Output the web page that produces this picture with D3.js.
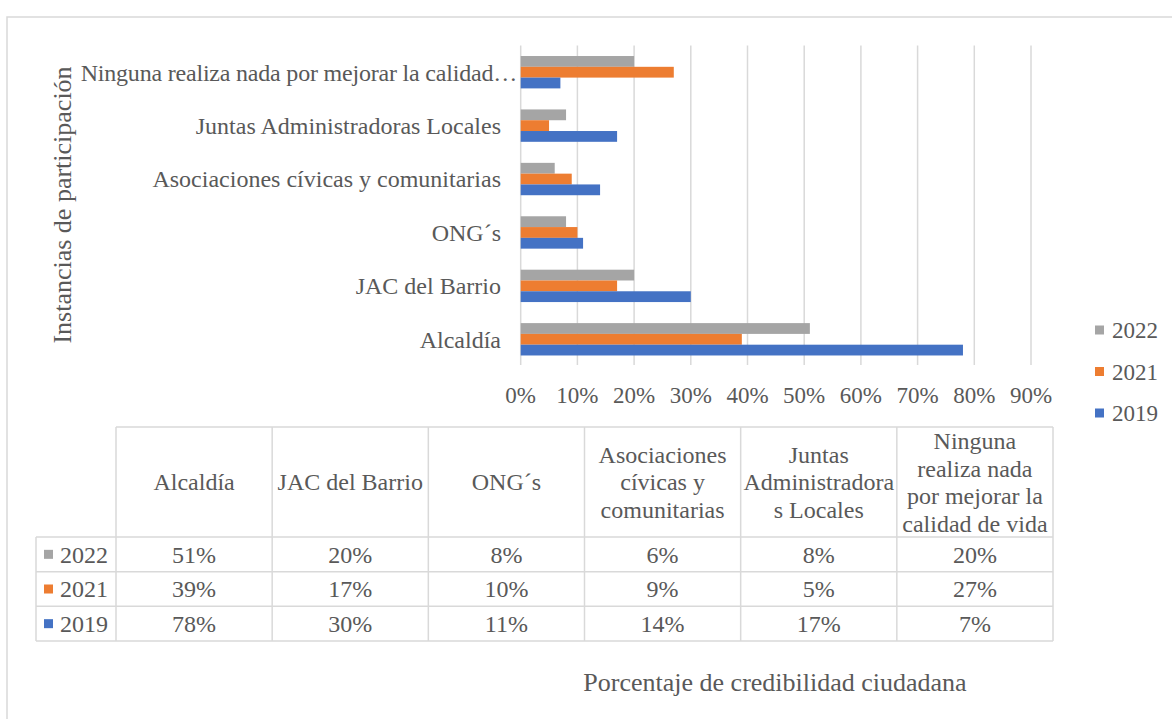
<!DOCTYPE html>
<html>
<head>
<meta charset="utf-8">
<script src="https://cdn.jsdelivr.net/npm/d3@7"></script>
<style>
  html, body { margin: 0; padding: 0; background: #fff; }
  svg { display: block; }
  text { font-family: "Liberation Serif", "Times New Roman", serif; fill: #595959; }
</style>
</head>
<body>
<svg id="chart" width="1172" height="719"></svg>
<script>
// categories as they appear in the table (left to right) / chart (bottom to top)
const categories = [
  "Alcaldía",
  "JAC del Barrio",
  "ONG´s",
  "Asociaciones cívicas y comunitarias",
  "Juntas Administradoras Locales",
  "Ninguna realiza nada por mejorar la calidad de vida"
];
const seriesNames = ["2022", "2021", "2019"];
const values2022 = [51, 20, 8, 6, 8, 20];
const values2021 = [39, 17, 10, 9, 5, 27];
const values2019 = [78, 30, 11, 14, 17, 7];
const xTicks = [0, 10, 20, 30, 40, 50, 60, 70, 80, 90];

const seriesValues = { "2022": values2022, "2021": values2021, "2019": values2019 };
const colors = { "2022": "#a5a5a5", "2021": "#ed7d31", "2019": "#4472c4" };
const gridColor = "#d9d9d9";

const svg = d3.select("#chart");

// outer chart frame
svg.append("rect")
  .attr("x", 7).attr("y", 17)
  .attr("width", 1300).attr("height", 900)
  .attr("fill", "#fff")
  .attr("stroke", gridColor)
  .attr("stroke-width", 1.5);

// plot area
const plot = { left: 520.7, right: 1031, top: 45.5, bottom: 366 };

const x = d3.scaleLinear().domain([0, 90]).range([plot.left, plot.right]);
const y = d3.scaleBand()
  .domain(categories)
  .range([plot.bottom, plot.top])
  .paddingInner(0.394)
  .paddingOuter(0.197);
const ySub = d3.scaleBand().domain(seriesNames).range([0, y.bandwidth()]);

// gridlines
svg.append("g")
  .selectAll("line")
  .data(xTicks)
  .join("line")
  .attr("x1", d => x(d)).attr("x2", d => x(d))
  .attr("y1", plot.top).attr("y2", plot.bottom - 1)
  .attr("stroke", gridColor)
  .attr("stroke-width", 1.5);

// bars
const groups = svg.append("g")
  .selectAll("g")
  .data(categories)
  .join("g")
  .attr("transform", d => "translate(0," + y(d) + ")");

groups.selectAll("rect")
  .data((c, i) => seriesNames.map(s => ({ s: s, v: seriesValues[s][i] })))
  .join("rect")
  .attr("x", x(0))
  .attr("y", d => ySub(d.s))
  .attr("width", d => x(d.v) - x(0))
  .attr("height", ySub.bandwidth())
  .attr("fill", d => colors[d.s]);

// x tick labels
svg.append("g")
  .selectAll("text")
  .data(xTicks)
  .join("text")
  .attr("x", d => x(d))
  .attr("y", 395)
  .attr("dy", "0.35em")
  .attr("text-anchor", "middle")
  .style("font-size", "23px")
  .text(d => d + "%");

// category labels (long ones get cut with an ellipsis, like Excel)
const labelMax = 446;
const catLabels = svg.append("g")
  .selectAll("text")
  .data(categories)
  .join("text")
  .attr("y", d => y(d) + y.bandwidth() / 2)
  .attr("dy", "0.35em")
  .attr("text-anchor", "end")
  .style("font-size", "24px")
  .text(d => d);

catLabels.each(function(d) {
  const t = d3.select(this);
  let s = d;
  let cut = false;
  while (this.getComputedTextLength() > labelMax && s.length > 1) {
    s = s.slice(0, -1).trimEnd();
    t.text(s + "…");
    cut = true;
  }
  t.attr("x", cut ? 517 : 501);
  if (cut) t.style("letter-spacing", "-0.2px");
});

// axis titles
svg.append("text")
  .attr("transform", "translate(62,205) rotate(-90)")
  .attr("dy", "0.35em")
  .attr("text-anchor", "middle")
  .style("font-size", "26px")
  .text("Instancias de participación");

svg.append("text")
  .attr("x", 775).attr("y", 682)
  .attr("dy", "0.35em")
  .attr("text-anchor", "middle")
  .style("font-size", "26px")
  .text("Porcentaje de credibilidad ciudadana");

// legend
const legendY = d3.scalePoint().domain(seriesNames).range([330, 413]);
const legend = svg.append("g")
  .selectAll("g")
  .data(seriesNames)
  .join("g")
  .attr("transform", d => "translate(1095," + legendY(d) + ")");
legend.append("rect")
  .attr("x", 0).attr("y", -4.5)
  .attr("width", 9).attr("height", 9)
  .attr("fill", d => colors[d]);
legend.append("text")
  .attr("x", 17)
  .attr("dy", "0.35em")
  .style("font-size", "23px")
  .text(d => d);

// data table
const table = { left: 36, colLeft: 116, right: 1053, top: 427, headBottom: 537, bottom: 641 };
const col = d3.scaleBand().domain(categories).range([table.colLeft, table.right]);
const row = d3.scaleBand().domain(seriesNames).range([table.headBottom, table.bottom]);

const tg = svg.append("g");
const line = (x1, y1, x2, y2) => tg.append("line")
  .attr("x1", x1).attr("y1", y1).attr("x2", x2).attr("y2", y2)
  .attr("stroke", gridColor).attr("stroke-width", 1.5);

// horizontal rules
line(table.colLeft, table.top, table.right, table.top);
seriesNames.forEach(s => line(table.left, row(s), table.right, row(s)));
line(table.left, table.bottom, table.right, table.bottom);
// vertical rules
line(table.left, table.headBottom, table.left, table.bottom);
categories.forEach(c => line(col(c), table.top, col(c), table.bottom));
line(table.right, table.top, table.right, table.bottom);

// header text with wrapping
const wrapMax = 151.5;
const lineH = 27.5;
const measure = tg.append("text").style("font-size", "24px");
function textWidth(s) {
  measure.text(s);
  return measure.node().getComputedTextLength();
}
function wrap(s) {
  const words = s.split(" ");
  const lines = [];
  let cur = "";
  words.forEach(w => {
    const test = cur ? cur + " " + w : w;
    if (textWidth(test) <= wrapMax) { cur = test; return; }
    if (cur) lines.push(cur);
    cur = w;
    while (textWidth(cur) > wrapMax) {
      let k = cur.length - 1;
      while (k > 1 && textWidth(cur.slice(0, k)) > wrapMax) k--;
      lines.push(cur.slice(0, k));
      cur = cur.slice(k);
    }
  });
  if (cur) lines.push(cur);
  return lines;
}

categories.forEach(c => {
  const lines = wrap(c);
  const cy = (table.top + table.headBottom) / 2;
  const t = tg.append("text")
    .attr("text-anchor", "middle")
    .style("font-size", "24px");
  lines.forEach((l, i) => {
    t.append("tspan")
      .attr("x", col(c) + col.bandwidth() / 2)
      .attr("y", cy + (i - (lines.length - 1) / 2) * lineH)
      .attr("dy", "0.35em")
      .text(l);
  });
});
measure.remove();

// row keys
seriesNames.forEach(s => {
  const cy = row(s) + row.bandwidth() / 2;
  tg.append("rect")
    .attr("x", 44).attr("y", cy - 4.5)
    .attr("width", 9).attr("height", 9)
    .attr("fill", colors[s]);
  tg.append("text")
    .attr("x", 60).attr("y", cy)
    .attr("dy", "0.35em")
    .style("font-size", "24px")
    .text(s);
  categories.forEach((c, i) => {
    tg.append("text")
      .attr("x", col(c) + col.bandwidth() / 2)
      .attr("y", cy)
      .attr("dy", "0.35em")
      .attr("text-anchor", "middle")
      .style("font-size", "24px")
      .text(seriesValues[s][i] + "%");
  });
});
</script>
</body>
</html>
